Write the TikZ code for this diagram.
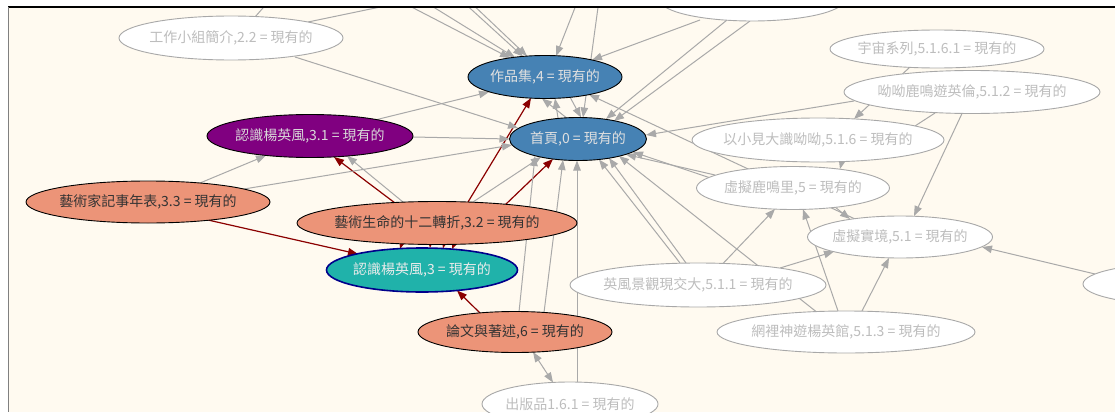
\documentclass[tikz,border=0pt]{standalone}
\usepackage{fontspec}
\setmainfont{Noto Sans CJK TC}
\usetikzlibrary{shapes.geometric,arrows.meta}
\definecolor{bgc}{HTML}{FFFAF0}
\definecolor{edg}{HTML}{A9A9A9}
\definecolor{redg}{HTML}{8B0000}
\definecolor{steel}{HTML}{4682B4}
\definecolor{purp}{HTML}{800080}
\definecolor{salm}{HTML}{EC9478}
\definecolor{tealc}{HTML}{20B2AA}
\definecolor{navyb}{HTML}{00008B}
\definecolor{wtext}{HTML}{BDBDBD}
\definecolor{wbord}{HTML}{A8A8A8}
\newcommand\nlab[1]{\makebox[0pt]{#1}}
\pgfdeclarelayer{bg}
\pgfdeclarelayer{edges}
\pgfdeclarelayer{fg}
\pgfsetlayers{bg,edges,main,fg}
\tikzset{
  nd/.style={ellipse, inner sep=0pt, font=\fontsize{14}{16}\selectfont},
  wn/.style={nd, draw=wbord, fill=white, text=wtext, line width=0.9pt},
  bn/.style={nd, draw=black, fill=steel, text=white!88!black, line width=0.9pt},
  pn/.style={nd, draw=black, fill=purp, text=white!85!black, line width=0.9pt},
  sn/.style={nd, draw=black, fill=salm, text=black!80, line width=0.9pt},
  tn/.style={nd, draw=navyb, fill=tealc, text=white!92!black, line width=1.6pt},
  gl/.style={draw=edg, line width=1pt},
  ge/.style={gl, -{Triangle[length=10pt,width=7.5pt]}},
  gb/.style={gl, {Triangle[length=10pt,width=7.5pt]}-{Triangle[length=10pt,width=7.5pt]}},
  re/.style={draw=redg, line width=1.2pt, -{Triangle[length=10pt,width=7.5pt]}},
}
\begin{document}
\begin{tikzpicture}[x=1pt,y=-1pt]
\useasboundingbox (0,0) rectangle (1115,412);
\begin{pgfonlayer}{bg}
  \fill[white] (0,0) rectangle (1115,412);
  \fill[bgc] (8,7) rectangle (1115,412);
\end{pgfonlayer}
\begin{scope}
\clip (8,7) rectangle (1115,412);
\node[wn, minimum width=224, minimum height=44] (wg) at (231,38) {\nlab{工作小組簡介,2.2 = 現有的}};
\node[bn, minimum width=154, minimum height=43] (zp) at (545,77) {\nlab{作品集,4 = 現有的}};
\node[bn, minimum width=137, minimum height=43] (sy) at (578,139) {\nlab{首頁,0 = 現有的}};
\node[pn, minimum width=206, minimum height=43] (r31) at (310,136) {\nlab{認識楊英風,3.1 = 現有的}};
\node[sn, minimum width=244, minimum height=42] (a33) at (148,202) {\nlab{藝術家記事年表,3.3 = 現有的}};
\node[sn, minimum width=280, minimum height=43] (a32) at (437,223) {\nlab{藝術生命的十二轉折,3.2 = 現有的}};
\node[tn, minimum width=191, minimum height=44] (r3) at (422,270) {\nlab{認識楊英風,3 = 現有的}};
\node[sn, minimum width=194, minimum height=41] (lw) at (515,332) {\nlab{論文與著述,6 = 現有的}};
\node[wn, minimum width=176, minimum height=44] (cb) at (570,404) {\nlab{出版品1.6.1 = 現有的}};
\node[wn, minimum width=256, minimum height=44] (yf) at (698,285) {\nlab{英風景觀現交大,5.1.1 = 現有的}};
\node[wn, minimum width=258, minimum height=42] (ws) at (846,332) {\nlab{網裡神遊楊英館,5.1.3 = 現有的}};
\node[wn, minimum width=193, minimum height=43] (lm) at (793,188) {\nlab{虛擬鹿鳴里,5 = 現有的}};
\node[wn, minimum width=185, minimum height=42] (xs) at (900,237) {\nlab{虛擬實境,5.1 = 現有的}};
\node[wn, minimum width=252, minimum height=44] (yx) at (818,140) {\nlab{以小見大識呦呦,5.1.6 = 現有的}};
\node[wn, minimum width=256, minimum height=43] (yy) at (972,92) {\nlab{呦呦鹿鳴遊英倫,5.1.2 = 現有的}};
\node[wn, minimum width=214, minimum height=38] (yz) at (937,49) {\nlab{宇宙系列,5.1.6.1 = 現有的}};
\node[wn, minimum width=184, minimum height=42] (tp) at (752,0) {};
\node[wn, minimum width=200, minimum height=42] (rp) at (1183,284) {};
\coordinate (o1) at (414,0);
\coordinate (o2) at (270,0);
\coordinate (o3) at (398,0);
\coordinate (o4) at (422,0);
\coordinate (o5) at (461,0);
\coordinate (o6) at (468,0);
\coordinate (o7) at (578,0);
\coordinate (o8) at (599,0);
\end{scope}
\begin{pgfonlayer}{edges}
\begin{scope}
\clip (8,7) rectangle (1115,412);
% red edges
\draw[re] ([shift={(-42,-20)}]a32.center) -- ([shift={(24,21)}]r31.center);
\draw[re] ([shift={(31,-21)}]a32.center) -- ([shift={(-14,21)}]zp.center);
\draw[re] ([shift={(68,-18)}]a32.center) -- ([shift={(-25,20)}]sy.center);
\draw[re] ([shift={(60,18)}]a33.center) -- ([shift={(-64,-16)}]r3.center);
\draw[re] ([shift={(-35,-19)}]lw.center) -- ([shift={(35,20.5)}]r3.center);
\draw[re] ([shift={(-33,13)}]a32.center) -- ([shift={(-22,-21)}]r3.center);
\draw[re] ([shift={(-6,13)}]a32.center) -- ([shift={(8,-22)}]r3.center);
\draw[re] ([shift={(9,13)}]a32.center) -- ([shift={(21,-21.5)}]r3.center);
\draw[re] ([shift={(21,13)}]a32.center) -- ([shift={(30,-21)}]r3.center);
% gray edges
\draw[ge] ([shift={(64,19)}]wg.center) -- ([shift={(-60,-11)}]sy.center);
\draw[gl] ([shift={(77,-16)}]wg.center) -- (o1);
\draw[gl] ([shift={(24,-21)}]wg.center) -- (o2);
\draw[ge] (o3) -- ([shift={(-35,-19)}]zp.center);
\draw[ge] (o4) -- ([shift={(-30,-19.5)}]zp.center);
\draw[ge] (o5) -- ([shift={(-22,-20.5)}]zp.center);
\draw[ge] (o6) -- ([shift={(-18,-21)}]zp.center);
\draw[ge] (o7) -- ([shift={(11,-21)}]zp.center);
\draw[ge] (o8) -- ([shift={(5,-21.5)}]sy.center);
\draw[ge] ([shift={(-52,20)}]tp.center) -- ([shift={(47,-17)}]zp.center);
\draw[ge] ([shift={(-25,20)}]tp.center) -- ([shift={(28,-20)}]sy.center);
\draw[ge] ([shift={(-2,21)}]tp.center) -- ([shift={(36,-18)}]sy.center);
\draw[ge] ([shift={(-10,-20)}]sy.center) -- ([shift={(-3,21.5)}]zp.center);
\draw[ge] ([shift={(-20,-21)}]sy.center) -- ([shift={(10,21.5)}]zp.center);
\draw[ge] ([shift={(25,20)}]zp.center) -- ([shift={(3,-21.5)}]sy.center);
\draw[ge] ([shift={(65,-16)}]r31.center) -- ([shift={(-56,15)}]zp.center);
\draw[ge] ([shift={(103,1)}]r31.center) -- ([shift={(-68.5,0)}]sy.center);
\draw[ge] ([shift={(52,-19)}]a33.center) -- ([shift={(-44,19.5)}]r31.center);
\draw[ge] ([shift={(96,-13)}]a33.center) -- ([shift={(-66,6)}]sy.center);
\draw[ge] ([shift={(-34,-21)}]a32.center) -- ([shift={(37,20)}]r31.center);
\draw[ge] ([shift={(36,-21)}]a32.center) -- ([shift={(-37,18)}]sy.center);
\draw[ge] ([shift={(4,-20)}]lw.center) -- ([shift={(-43,17)}]sy.center);
\draw[ge] ([shift={(29,-19.5)}]lw.center) -- ([shift={(-15,21)}]sy.center);
\draw[ge] ([shift={(7,-21)}]cb.center) -- ([shift={(-1,21.5)}]sy.center);
\draw[gb] ([shift={(18,20)}]lw.center) -- ([shift={(-17,-21.5)}]cb.center);
\draw[ge] ([shift={(-18,-22)}]yf.center) -- ([shift={(21,20.5)}]sy.center);
\draw[ge] ([shift={(-12,-22)}]yf.center) -- ([shift={(31,19)}]sy.center);
\draw[ge] ([shift={(-30,-20.5)}]ws.center) -- ([shift={(41,17)}]sy.center);
\draw[ge] ([shift={(-84,-10.5)}]lm.center) -- ([shift={(55,13)}]sy.center);
\draw[ge] ([shift={(-78,-13)}]lm.center) -- ([shift={(48,15.5)}]sy.center);
\draw[ge] ([shift={(-118,9)}]yy.center) -- ([shift={(68,-4)}]sy.center);
\draw[ge] ([shift={(-27,18)}]yz.center) -- ([shift={(36,-21)}]yx.center);
\draw[gl] ([shift={(-37,21)}]yy.center) -- ([shift={(97,-14)}]yx.center);
\draw[ge] ([shift={(-10,21.5)}]yy.center) -- ([shift={(14,-21)}]xs.center);
\draw[ge] ([shift={(24,21)}]yx.center) -- ([shift={(47,-19)}]lm.center);
\draw[ge] ([shift={(-45,-18)}]xs.center) -- ([shift={(44,17.5)}]zp.center);
\draw[ge] ([shift={(42,19)}]lm.center) -- ([shift={(-50,-18)}]xs.center);
\draw[ge] ([shift={(25,-21.5)}]yf.center) -- ([shift={(-18,21)}]lm.center);
\draw[ge] ([shift={(82,-17)}]yf.center) -- ([shift={(-66,14.5)}]xs.center);
\draw[ge] ([shift={(-8,-21)}]ws.center) -- ([shift={(10,21.3)}]lm.center);
\draw[ge] ([shift={(16,-21)}]ws.center) -- ([shift={(-11,21)}]xs.center);
\draw[ge] ([shift={(-88,-10)}]rp.center) -- ([shift={(82,10)}]xs.center);
\end{scope}
\end{pgfonlayer}
\begin{pgfonlayer}{fg}
  \draw[black, line width=1.2pt] (8,7) -- (1115,7);
  \draw[black!50, line width=1pt] (8,7) -- (8,412);
\end{pgfonlayer}
\end{tikzpicture}
\end{document}
